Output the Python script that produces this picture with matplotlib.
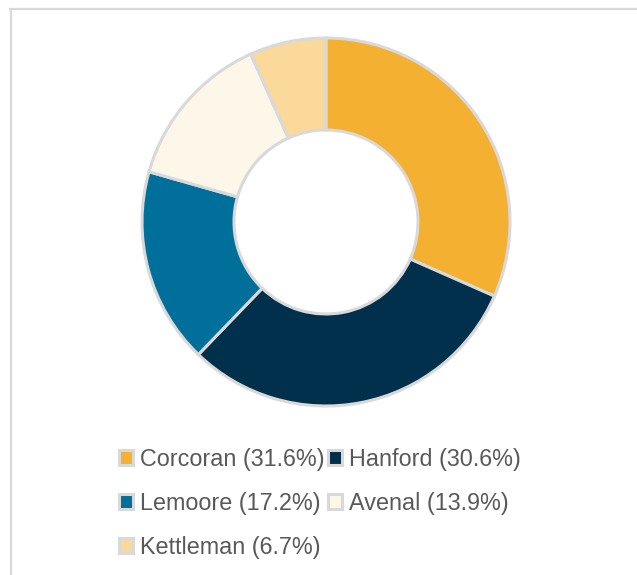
import matplotlib.pyplot as plt
from matplotlib.patches import Patch
from matplotlib.lines import Line2D

towns = ["Corcoran", "Hanford", "Lemoore", "Avenal", "Kettleman"]
shares = [31.6, 30.6, 17.2, 13.9, 6.7]
colors = ["#F4B030", "#00304B", "#006F9A", "#FDF7EA", "#FAD99A"]

W, H = 637, 575
fig = plt.figure(figsize=(W / 100, H / 100), dpi=100)

# donut: centre (326, 222) px from top-left, outer radius 184 px
cx, cy, r = 326, 222, 184
ax = fig.add_axes([(cx - r) / W, (H - cy - r) / H, 2 * r / W, 2 * r / H])
ax.pie(shares, colors=colors, startangle=90, counterclock=False,
       wedgeprops=dict(width=0.5, edgecolor="#D9D9D9", linewidth=2.2))
ax.set_xlim(-1, 1)
ax.set_ylim(-1, 1)
for p in ax.patches:
    p.set_clip_on(False)

# legend laid out row by row
labels = [f"{t} ({s}%)" for t, s in zip(towns, shares)]
handles = [Patch(facecolor=c, edgecolor="#D9D9D9", linewidth=2.2) for c in colors]
order = [0, 2, 4, 1, 3]
fig.legend([handles[i] for i in order], [labels[i] for i in order],
           ncol=2, loc="upper left", bbox_to_anchor=(119 / W, 1 - 448 / H),
           frameon=False, borderpad=0, borderaxespad=0,
           handlelength=0.6, handleheight=0.6, handletextpad=0.3,
           columnspacing=0.15, labelspacing=0.9,
           prop=dict(family="Liberation Sans", size=16.8), labelcolor="#595959")

# chart frame (top and left edges visible)
fig.add_artist(Line2D([10 / W, 1], [1 - 9 / H, 1 - 9 / H], color="#D9D9D9", lw=1.6))
fig.add_artist(Line2D([11 / W, 11 / W], [0, 1 - 9 / H], color="#D9D9D9", lw=1.6))

fig.savefig("out.png", dpi=100)
